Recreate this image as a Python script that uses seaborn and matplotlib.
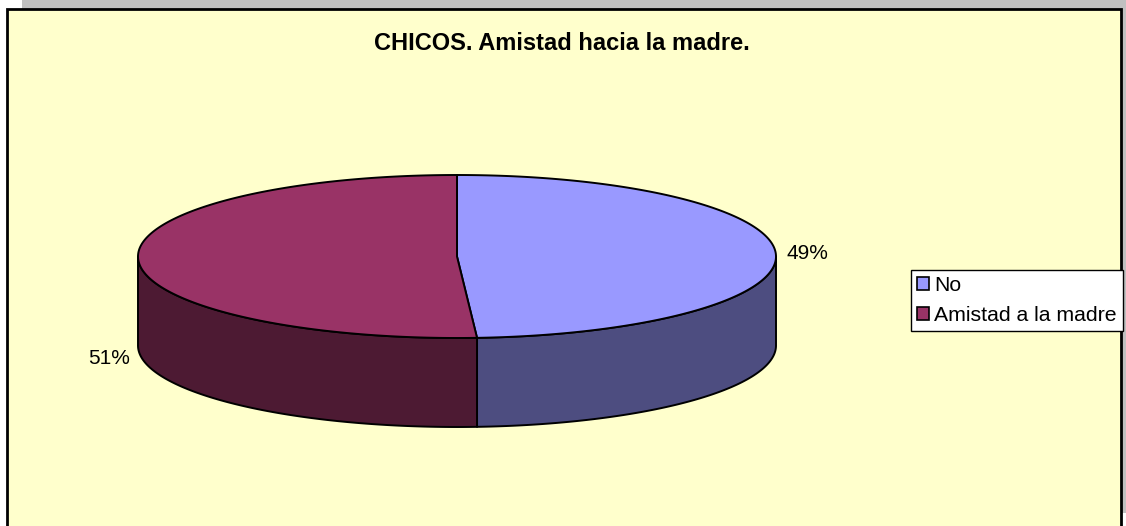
import numpy as np
import matplotlib
matplotlib.use("Agg")
import matplotlib.pyplot as plt
from matplotlib.patches import Polygon, Rectangle, Patch
import seaborn as sns

sns.set_theme(style="white")
plt.rcParams['font.family'] = ['Liberation Sans', 'DejaVu Sans']
plt.rcParams['text.color'] = 'black'

# data
labels = ["No", "Amistad a la madre"]
values = [49, 51]
top_colors = ["#9999FF", "#993366"]
side_colors = ["#4D4D80", "#4D1A33"]
title = "CHICOS. Amistad hacia la madre."

W, H = 1126, 526
fig = plt.figure(figsize=(W / 100, H / 100), dpi=100)
fig.patch.set_facecolor("white")
ax = fig.add_axes([0, 0, 1, 1])
ax.set_xlim(0, W)
ax.set_ylim(H, 0)
ax.axis("off")

# chart frame (shadow + pale yellow area)
ax.add_patch(Rectangle((22, 0), W - 22, 513, facecolor="#C0C0C0", edgecolor="none", zorder=0))
ax.add_patch(Rectangle((7, 9), 1114, 530, facecolor="#FFFFCC", edgecolor="black", lw=2.0, zorder=1))

ax.text(562, 43, title, ha="center", va="center", fontsize=17, fontweight="bold", zorder=5)

# 3D pie geometry (pixels)
cx, cy = 457, 256.5
a, b = 319, 81.5
depth = 89


def ell(theta):
    # theta in degrees, clockwise from 12 o'clock
    t = np.radians(theta)
    return cx + a * np.sin(t), cy - b * np.cos(t)


fracs = np.array(values, dtype=float) / sum(values)
bounds = np.concatenate([[0], np.cumsum(fracs) * 360])

# side walls (front half: 90..270 deg)
for i in range(len(values)):
    s, e = max(bounds[i], 90), min(bounds[i + 1], 270)
    if e <= s:
        continue
    th = np.linspace(s, e, 200)
    x, y = ell(th)
    pts = np.column_stack([np.r_[x, x[::-1]], np.r_[y, y[::-1] + depth]])
    ax.add_patch(Polygon(pts, closed=True, facecolor=side_colors[i], edgecolor="black",
                         lw=1.4, joinstyle="round", zorder=2))

# top wedges
for i in range(len(values)):
    th = np.linspace(bounds[i], bounds[i + 1], 300)
    x, y = ell(th)
    pts = np.column_stack([np.r_[cx, x], np.r_[cy, y]])
    ax.add_patch(Polygon(pts, closed=True, facecolor=top_colors[i], edgecolor="black",
                         lw=1.4, joinstyle="round", zorder=3))

# percentage labels
label_dx = [11, -8]
label_dy = [0, depth + 10]
for i in range(len(values)):
    mid = (bounds[i] + bounds[i + 1]) / 2
    x, y = ell(mid)
    ha = "left" if np.sin(np.radians(mid)) > 0 else "right"
    ax.text(x + label_dx[i], y + label_dy[i], f"{values[i]}%", ha=ha, va="center",
            fontsize=15, zorder=5)

handles = [Patch(facecolor=c, edgecolor="black", lw=1.2) for c in top_colors]
leg = ax.legend(handles, labels, loc="upper left", bbox_to_anchor=(911 / W, 1 - 270 / H),
                bbox_transform=fig.transFigure, fontsize=15.3, frameon=True, fancybox=False,
                edgecolor="black", facecolor="white", framealpha=1, borderpad=0.3,
                handlelength=0.55, handleheight=0.55, handletextpad=0.25,
                labelspacing=0.5, borderaxespad=0)
leg.get_frame().set_linewidth(1.0)
leg.set_zorder(6)

fig.savefig("out.png", dpi=100)
